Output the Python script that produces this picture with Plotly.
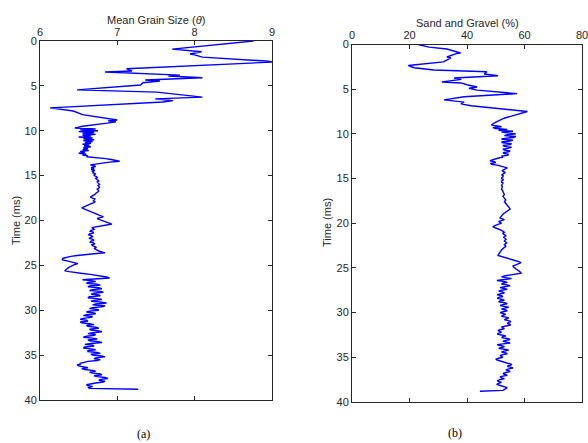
import plotly.graph_objects as go

# ---------------- data ----------------
# Panel (a): coarse vertices of the upper part (time in ms, mean grain size in theta)
time_a_top = [0.0, 0.9, 1.2, 1.45, 1.55, 1.8, 2.25, 2.35, 3.1, 3.35, 3.45, 3.8, 3.9, 4.1,
              4.35, 4.45, 4.65, 4.9, 5.45, 5.7, 6.25, 6.45, 6.65, 6.8, 7.45, 7.8, 8.2,
              8.5, 8.7, 8.8, 8.9, 9.0, 9.15, 9.35, 9.5, 9.7]
grain_top = [8.76, 7.71, 8.09, 7.94, 8.0, 8.1, 8.95, 9.0, 7.12, 7.19, 6.84, 7.81, 7.66, 8.1,
             7.36, 7.55, 7.33, 7.3, 6.48, 7.51, 8.1, 7.49, 7.72, 7.59, 6.13, 6.43, 6.55,
             6.78, 6.9, 7.0, 6.88, 6.98, 6.87, 6.65, 6.55, 6.45]

# Panel (b): coarse vertices of the upper part (time in ms, sand and gravel in %)
time_b_top = [0.0, 0.3, 0.5, 0.95, 1.0, 1.4, 1.5, 1.95, 2.35, 2.6, 2.85, 3.05, 3.3, 3.5,
              3.75, 3.9, 4.2, 4.3, 4.5, 4.75, 4.9, 5.1, 5.5, 5.85, 6.2, 6.45, 6.65, 6.85,
              7.5, 7.9, 8.25, 8.8, 9.0]
sand_top = [23, 26.8, 33, 37.8, 36.5, 33, 34.4, 31.8, 19.6, 21.6, 28.5, 46.9, 46, 50.8,
            35.5, 38, 31.3, 37.9, 40, 43.5, 40.7, 43.5, 57.4, 39, 32, 39, 37.9, 41.4,
            61, 56.3, 52.9, 49.4, 48.5]

# Fine sampling times (ms) for the lower, densely sampled part
time_fine = [9.2, 9.3, 9.4, 9.5, 9.6, 9.7, 9.8, 9.9,
             10.0, 10.1, 10.2, 10.3, 10.4, 10.5, 10.6, 10.7, 10.8, 10.9,
             11.0, 11.1, 11.2, 11.3, 11.4, 11.5, 11.6, 11.7, 11.8, 11.9,
             12.0, 12.1, 12.2, 12.3, 12.4, 12.5, 12.6, 12.7, 12.8, 12.9,
             13.0, 13.1, 13.2, 13.3, 13.4, 13.5, 13.6, 13.7, 13.8, 13.9,
             14.0, 14.1, 14.2, 14.3, 14.4, 14.5, 14.6, 14.7, 14.8, 14.9,
             15.0, 15.1, 15.2, 15.3, 15.4, 15.5, 15.6, 15.7, 15.8, 15.9,
             16.0, 16.1, 16.2, 16.3, 16.4, 16.5, 16.6, 16.7, 16.8, 16.9,
             17.0, 17.1, 17.2, 17.3, 17.4, 17.5, 17.6, 17.7, 17.8, 17.9,
             18.0, 18.1, 18.2, 18.3, 18.4, 18.5, 18.6, 18.7, 18.8, 18.9,
             19.0, 19.1, 19.2, 19.3, 19.4, 19.5, 19.6, 19.7, 19.8, 19.9,
             20.0, 20.1, 20.2, 20.3, 20.4, 20.5, 20.6, 20.7, 20.8, 20.9,
             21.0, 21.1, 21.2, 21.3, 21.4, 21.5, 21.6, 21.7, 21.8, 21.9,
             22.0, 22.1, 22.2, 22.3, 22.4, 22.5, 22.6, 22.7, 22.8, 22.9,
             23.0, 23.1, 23.2, 23.3, 23.4, 23.5, 23.6, 23.7, 23.8, 23.9,
             24.0, 24.1, 24.2, 24.3, 24.4, 24.5, 24.6, 24.7, 24.8, 24.9,
             25.0, 25.1, 25.2, 25.3, 25.4, 25.5, 25.6, 25.7, 25.8, 25.9,
             26.0, 26.1, 26.2, 26.3, 26.4, 26.5, 26.6, 26.7, 26.8, 26.9,
             27.0, 27.1, 27.2, 27.3, 27.4, 27.5, 27.6, 27.7, 27.8, 27.9,
             28.0, 28.1, 28.2, 28.3, 28.4, 28.5, 28.6, 28.7, 28.8, 28.9,
             29.0, 29.1, 29.2, 29.3, 29.4, 29.5, 29.6, 29.7, 29.8, 29.9,
             30.0, 30.1, 30.2, 30.3, 30.4, 30.5, 30.6, 30.7, 30.8, 30.9,
             31.0, 31.1, 31.2, 31.3, 31.4, 31.5, 31.6, 31.7, 31.8, 31.9,
             32.0, 32.1, 32.2, 32.3, 32.4, 32.5, 32.6, 32.7, 32.8, 32.9,
             33.0, 33.1, 33.2, 33.3, 33.4, 33.5, 33.6, 33.7, 33.8, 33.9,
             34.0, 34.1, 34.2, 34.3, 34.4, 34.5, 34.6, 34.7, 34.8, 34.9,
             35.0, 35.1, 35.2, 35.3, 35.4, 35.5, 35.6, 35.7, 35.8, 35.9,
             36.0, 36.1, 36.2, 36.3, 36.4, 36.5, 36.6, 36.7, 36.8, 36.9,
             37.0, 37.1, 37.2, 37.3, 37.4, 37.5, 37.6, 37.7, 37.8, 37.9,
             38.0, 38.1, 38.2, 38.3, 38.4, 38.5, 38.6, 38.7, 38.8]

# Mean grain size from 9.8 ms onward (matches time_fine[6:])
grain_fine = [6.72, 6.52,
              6.75, 6.50, 6.70, 6.55, 6.72, 6.55, 6.66, 6.50, 6.68, 6.56,
              6.70, 6.56, 6.68, 6.58, 6.66, 6.55, 6.64, 6.57, 6.66, 6.56,
              6.62, 6.55, 6.63, 6.52, 6.58, 6.50, 6.60, 6.55, 6.62, 6.60,
              6.78, 6.85, 6.92, 6.98, 7.03, 6.90, 6.80, 6.70, 6.65, 6.70,
              6.72, 6.66, 6.70, 6.66, 6.71, 6.67, 6.70, 6.68, 6.72, 6.70,
              6.70, 6.73, 6.74, 6.72, 6.73, 6.75, 6.76, 6.74, 6.75, 6.77,
              6.77, 6.75, 6.76, 6.77, 6.76, 6.74, 6.75, 6.76, 6.75, 6.73,
              6.72, 6.71, 6.69, 6.67, 6.65, 6.68, 6.71, 6.70, 6.69, 6.71,
              6.70, 6.67, 6.64, 6.61, 6.58, 6.56, 6.54, 6.57, 6.60, 6.62,
              6.65, 6.68, 6.70, 6.73, 6.76, 6.79, 6.82, 6.76, 6.74, 6.77,
              6.80, 6.84, 6.88, 6.91, 6.93, 6.86, 6.80, 6.72, 6.67, 6.69,
              6.70, 6.66, 6.65, 6.69, 6.69, 6.64, 6.63, 6.67, 6.68, 6.65,
              6.64, 6.68, 6.70, 6.66, 6.65, 6.69, 6.71, 6.67, 6.68, 6.71,
              6.73, 6.70, 6.72, 6.74, 6.76, 6.80, 6.84, 6.70, 6.56, 6.48,
              6.40, 6.34, 6.30, 6.29, 6.29, 6.35, 6.40, 6.45, 6.49, 6.45,
              6.42, 6.40, 6.38, 6.36, 6.35, 6.33, 6.32, 6.38, 6.45, 6.55,
              6.65, 6.74, 6.82, 6.86, 6.90, 6.70, 6.55, 6.66, 6.72, 6.62,
              6.60, 6.74, 6.78, 6.64, 6.62, 6.76, 6.80, 6.68, 6.64, 6.78,
              6.82, 6.70, 6.66, 6.76, 6.78, 6.64, 6.62, 6.74, 6.80, 6.70,
              6.66, 6.80, 6.86, 6.72, 6.68, 6.84, 6.82, 6.70, 6.64, 6.74,
              6.76, 6.64, 6.60, 6.70, 6.72, 6.60, 6.56, 6.68, 6.66, 6.56,
              6.52, 6.60, 6.62, 6.52, 6.54, 6.64, 6.70, 6.60, 6.62, 6.72,
              6.76, 6.64, 6.66, 6.76, 6.80, 6.68, 6.62, 6.72, 6.70, 6.60,
              6.56, 6.68, 6.74, 6.62, 6.64, 6.76, 6.80, 6.66, 6.58, 6.68,
              6.70, 6.58, 6.56, 6.66, 6.72, 6.62, 6.62, 6.74, 6.78, 6.66,
              6.68, 6.80, 6.84, 6.72, 6.70, 6.78, 6.74, 6.62, 6.56, 6.52,
              6.52, 6.48, 6.50, 6.58, 6.62, 6.54, 6.58, 6.68, 6.72, 6.64,
              6.68, 6.78, 6.80, 6.70, 6.74, 6.84, 6.88, 6.78, 6.76, 6.84,
              6.82, 6.72, 6.66, 6.60, 6.62, 6.68, 6.62, 6.64, 7.27]

# Sand and gravel from 9.2 ms onward (matches time_fine)
sand_fine = [52, 49, 50, 54, 51, 56, 52, 55,
             57, 54, 53, 57, 56, 53, 52, 56, 55, 52,
             52.5, 55.5, 55, 52.5, 53, 55.5, 54.5, 52.5, 53, 55,
             54.5, 52.5, 53, 54.5, 54, 52, 52.5, 51, 50, 49,
             48, 49.5, 50, 48.2, 48.5, 50.5, 52, 53.5, 54, 53.5,
             53, 52.3, 52.5, 53.2, 53, 52.2, 52, 52.6, 52.5, 52.1,
             52, 52.6, 52.5, 52.0, 52, 52.5, 52.3, 52.0, 52, 52.3,
             52.2, 52.0, 52, 52.3, 52.4, 52.5, 52.6, 52.8, 53, 52.7,
             52.5, 52.8, 53, 53.3, 53.5, 53.2, 53, 53.3, 53.6, 53.8,
             54, 54.2, 54.5, 54.8, 55, 54.5, 54, 53.5, 53, 52.8,
             52.5, 52.2, 52, 51.6, 51.5, 52.3, 53, 52, 51, 51.5,
             52, 51, 50, 49.5, 49, 49.6, 50.5, 51.3, 52, 52.5,
             53, 52.5, 52.6, 53.2, 53.5, 52.9, 52.8, 53.3, 53.6, 53.2,
             53, 53.5, 53.8, 53.3, 53, 53.4, 53.5, 53, 52.5, 52.3,
             52, 51.8, 51.5, 51.2, 51, 50.9, 50.8, 52, 53, 54,
             55, 56, 57, 58, 58.8, 58.2, 57.5, 56.8, 56, 56.2,
             56.5, 57, 57.5, 58, 58.5, 58.7, 58.8, 56.5, 54, 53,
             52, 54, 55.5, 53, 50.4, 52.5, 54, 52.5, 52, 54,
             55, 53, 51.5, 53, 54, 52, 51, 52.5, 53, 51.5,
             50.5, 52, 52.5, 51, 50.5, 52, 53, 51.5, 51, 53,
             54, 52.5, 51.5, 53, 54.5, 53, 52, 53.5, 54, 52.5,
             51.5, 52.5, 53.5, 52.5, 52, 53.5, 54.5, 53.5, 53, 54.5,
             55.3, 54.5, 54, 55, 55, 53.5, 52, 52.5, 53, 51.5,
             50.8, 51.5, 52, 51, 50.5, 52, 53.5, 52.5, 52, 54,
             55, 53.5, 52.5, 54, 55, 52.5, 50.5, 52, 53, 52,
             51, 53, 54.5, 53, 52, 53.5, 54, 52.5, 51.5, 52,
             52.5, 51, 50, 50.5, 51.5, 52, 53, 54.5, 55.6, 55,
             54, 55, 56, 54.5, 53.5, 54.5, 55, 53.5, 52.5, 53,
             54, 52.5, 51.5, 52, 53, 51.5, 50.5, 51, 52, 51,
             50.5, 51, 52, 53, 54, 53.5, 53, 52.5, 44.5]

grain_ticks = [6, 7, 8, 9]
sand_ticks = [0, 20, 40, 60, 80]
time_ticks = [0, 5, 10, 15, 20, 25, 30, 35, 40]

# ---------------- figure ----------------
W, H = 588, 443
def px(x):
    return x / W
def py(y):
    return 1 - y / H

time_a = time_a_top + time_fine[6:]
grain = grain_top + grain_fine
time_b = time_b_top + time_fine
sand = sand_top + sand_fine
print(len(time_fine[6:]), len(grain_fine), len(time_fine), len(sand_fine))

fig = go.Figure()
fig.add_trace(go.Scatter(x=grain, y=time_a, mode="lines",
                         line=dict(color="#0000ff", width=1.4), xaxis="x", yaxis="y"))
fig.add_trace(go.Scatter(x=sand, y=time_b, mode="lines",
                         line=dict(color="#0000ff", width=1.4), xaxis="x2", yaxis="y2"))

axcol = "#262626"
font = dict(family="Liberation Sans, Arial, sans-serif", size=11, color=axcol)
common = dict(showline=True, linecolor=axcol, linewidth=1, mirror="ticks",
              ticks="inside", ticklen=4, tickcolor=axcol, tickwidth=1,
              showgrid=False, zeroline=False, tickfont=font, automargin=False,
              ticklabeloverflow="allow")

fig.update_layout(
    template="none",
    width=W, height=H, margin=dict(l=0, r=0, t=0, b=0, pad=0, autoexpand=False),
    paper_bgcolor="white", plot_bgcolor="white", showlegend=False,
    xaxis=dict(domain=[px(40), px(272)], range=[6, 9], tickvals=grain_ticks,
               side="top", anchor="y", **common),
    yaxis=dict(domain=[py(400), py(41)], range=[40, 0], tickvals=time_ticks,
               anchor="x", **common),
    xaxis2=dict(domain=[px(352), px(582)], range=[0, 80], tickvals=sand_ticks,
                side="top", anchor="y2", **common),
    yaxis2=dict(domain=[py(402), py(44.5)], range=[40, 0], tickvals=time_ticks,
                anchor="x2", **common),
)

ann = [
    dict(text="Mean Grain Size (<i>θ</i>)", x=px(156), y=py(20)),
    dict(text="Sand and Gravel (%)", x=px(467), y=py(23)),
    dict(text="Time (ms)", x=px(16), y=py(221), textangle=-90),
    dict(text="Time (ms)", x=px(327), y=py(223), textangle=-90),
]
for a in ann:
    fig.add_annotation(xref="paper", yref="paper", showarrow=False,
                       xanchor="center", yanchor="middle", font=font, **a)

serif = dict(family="Liberation Serif, Times New Roman, serif", size=12, color="#000000")
fig.add_annotation(text="(a)", x=px(143), y=py(434), xref="paper", yref="paper",
                   showarrow=False, xanchor="center", yanchor="middle", font=serif)
fig.add_annotation(text="(b)", x=px(455), y=py(433), xref="paper", yref="paper",
                   showarrow=False, xanchor="center", yanchor="middle", font=serif)

fig.write_html("out.html", config={"displayModeBar": False},
               post_script="document.body.style.margin='0px';document.body.style.overflow='hidden';")
